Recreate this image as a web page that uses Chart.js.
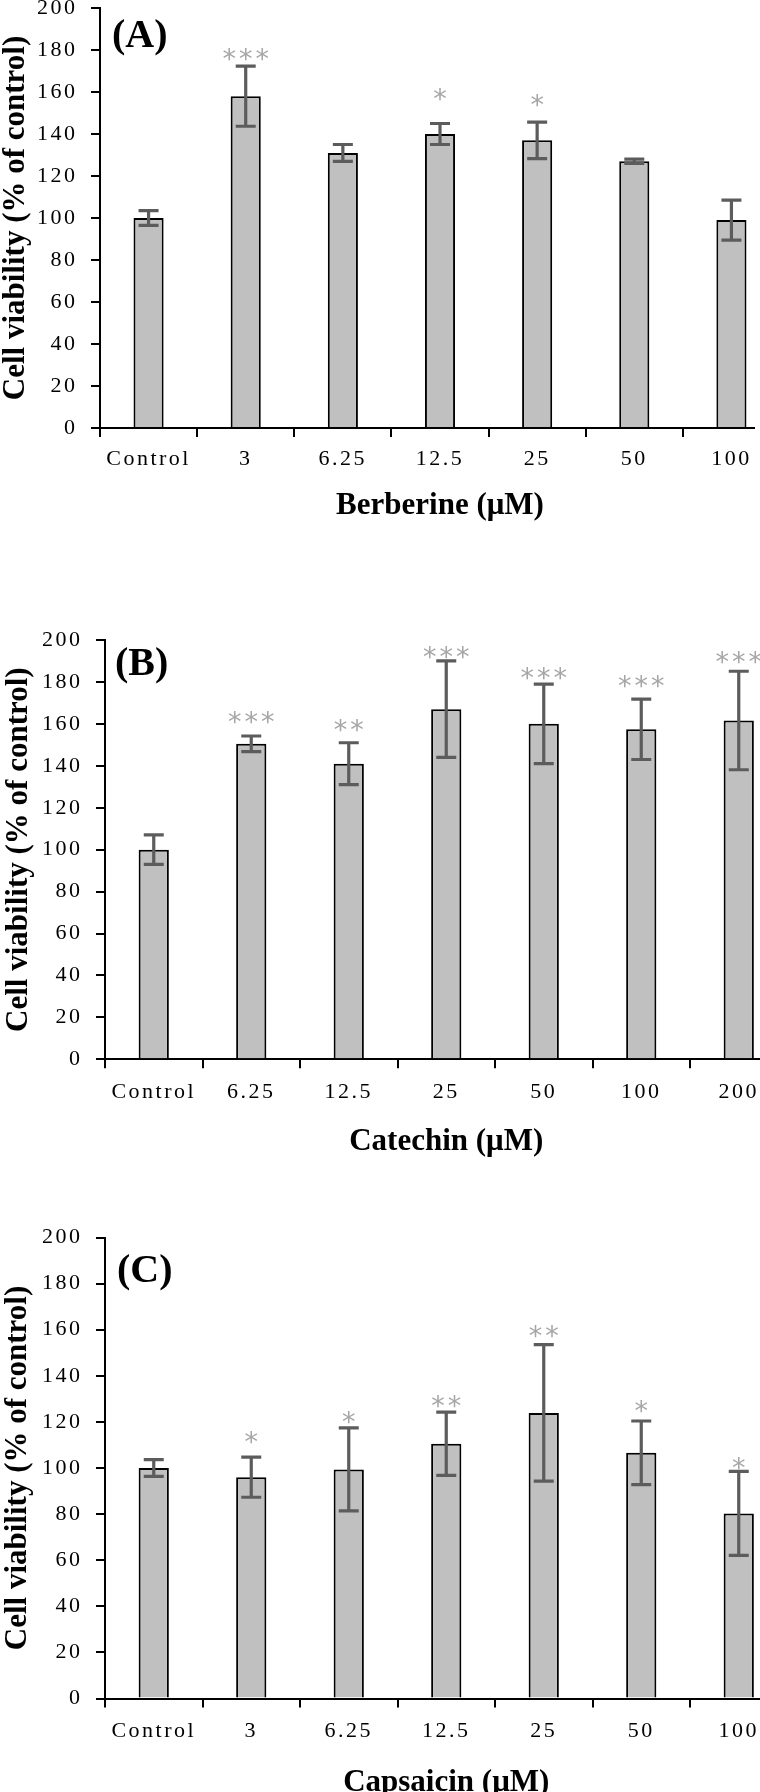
<!DOCTYPE html>
<html><head><meta charset="utf-8">
<script src="https://cdn.jsdelivr.net/npm/chart.js@4.4.1/dist/chart.umd.min.js"></script>
<style>
html,body{margin:0;padding:0;background:#fff;overflow:hidden;width:760px;height:1792px;}
.panel{position:absolute;left:0;overflow:hidden;}
canvas{display:block;}
</style></head><body>
<div class="panel" style="top:0;width:755px;height:525px"><canvas id="cA" width="790" height="525"></canvas></div>
<div class="panel" style="top:600px;width:760px;height:561px"><canvas id="cB" width="798" height="561"></canvas></div>
<div class="panel" style="top:1200px;width:760px;height:592px"><canvas id="cC" width="798" height="602"></canvas></div>
<script>
// ---- Data ----
const yTicksMin = 0, yTicksMax = 200, yTickStep = 20;
const yTitle = 'Cell viability (% of control)';

const aLabels = ['Control','3','6.25','12.5','25','50','100'];
const aValues = [100,158,131,140,137,127,99];
const aErrors = [3.5,14.3,4,5,8.7,1,9.5];
const aSig    = ['','***','','*','*','',''];
const aSigY   = [null,178.6,null,160,156.7,null,null];

const bLabels = ['Control','6.25','12.5','25','50','100','200'];
const bValues = [100,150.5,141,167,160,157.4,161.6];
const bErrors = [7,3.7,10,23,19,14.4,23.5];
const bSig    = ['','***','**','***','***','***','***'];
const bSigY   = [null,164.2,160,194.9,184.9,181.3,192.8];

const cLabels = ['Control','3','6.25','12.5','25','50','100'];
const cValues = [100,96,99.4,110.5,123.9,106.6,80.3];
const cErrors = [3.6,8.7,18,13.7,29.6,13.8,18.2];
const cSig    = ['','*','*','**','**','*','*'];
const cSigY   = [null,113.9,122.7,129.8,159.9,127.5,103];

const SERIF = '"Liberation Serif","Times New Roman",serif';

function makePanel(p){
  const overlay = {
    id:'overlay',
    beforeDraw(chart){
      ['x','y'].forEach(id=>{
        const s = chart.scales[id];
        if(s && !s._lsPatched){
          const orig = s.drawLabels;
          s.drawLabels = function(ca){ const c=this.ctx; c.save(); c.letterSpacing='2.5px'; orig.call(this, ca); c.restore(); };
          s._lsPatched = true;
        }
      });
    },
    afterDatasetsDraw(chart){
      const ctx = chart.ctx, ys = chart.scales.y, meta = chart.getDatasetMeta(0);
      ctx.save();
      ctx.strokeStyle = '#5c5c5c'; ctx.lineWidth = 3.2; ctx.lineCap = 'butt';
      meta.data.forEach((bar,i)=>{
        const x = bar.x;
        const t = ys.getPixelForValue(p.values[i] + p.errors[i]);
        const b = ys.getPixelForValue(p.values[i] - p.errors[i]);
        ctx.beginPath();
        ctx.moveTo(x,t); ctx.lineTo(x,b);
        ctx.moveTo(x-10,t); ctx.lineTo(x+10,t);
        ctx.moveTo(x-10,b); ctx.lineTo(x+10,b);
        ctx.stroke();
      });
      ctx.fillStyle = '#a6a6a6'; ctx.font = '27px "DejaVu Sans"';
      ctx.textAlign = 'center'; ctx.textBaseline = 'alphabetic'; ctx.letterSpacing = '3px';
      meta.data.forEach((bar,i)=>{
        if(p.sig[i]) ctx.fillText(p.sig[i], bar.x + 1.5, ys.getPixelForValue(p.sigY[i]) + 15.5);
      });
      ctx.letterSpacing = '0px';
      ctx.fillStyle = '#000'; ctx.font = 'bold 40px ' + SERIF; ctx.textAlign = 'left';
      ctx.fillText(p.tag, chart.chartArea.left + p.tagDX, chart.chartArea.top + p.tagDY);
      ctx.restore();
    }
  };
  return new Chart(document.getElementById(p.canvas), {
    type:'bar',
    data:{ labels:p.labels, datasets:[{ data:p.values, backgroundColor:'#c0c0c0', borderColor:'#000', borderWidth:2,
      categoryPercentage:1, barPercentage:0.31 }]},
    options:{
      responsive:false, animation:false, devicePixelRatio:1,
      layout:{ padding:{ left:0, top:p.padTop, right:p.padRight, bottom:0 } },
      plugins:{ legend:{display:false}, tooltip:{enabled:false} },
      scales:{
        x:{
          offset:true,
          grid:{ display:true, offset:true, drawOnChartArea:false, drawTicks:true, tickLength:9, color:'#000', lineWidth:2 },
          border:{ display:true, color:'#000', width:2 },
          ticks:{ color:'#000', font:{ family:SERIF, size:22 }, padding:p.xTickPad, autoSkip:false, maxRotation:0 },
          title:{ display:true, text:p.xTitle, color:'#000', font:{ family:SERIF, size:31, weight:'bold', lineHeight:1.2 }, padding:0 },
          afterFit(s){ s.height = p.xHeight; s.paddingLeft = 0; s.paddingRight = 0; }
        },
        y:{
          min:yTicksMin, max:yTicksMax,
          grid:{ display:true, drawOnChartArea:false, drawTicks:true, tickLength:9, color:'#000', lineWidth:2 },
          border:{ display:true, color:'#000', width:2 },
          ticks:{ stepSize:yTickStep, color:'#000', font:{ family:SERIF, size:22 }, padding:13.5 },
          title:{ display:true, text:yTitle, color:'#000', font:{ family:SERIF, size:31, weight:'bold', lineHeight:1 }, padding:{ top:p.yTitlePad, bottom:0 } },
          afterFit(s){ s.width = p.yWidth; s.paddingTop = 0; s.paddingBottom = 0; }
        }
      }
    },
    plugins:[overlay]
  });
}

makePanel({ canvas:'cA', labels:aLabels, values:aValues, errors:aErrors, sig:aSig, sigY:aSigY,
  tag:'(A)', tagDX:12, tagDY:39, xTitle:'Berberine (μM)',
  padTop:8, padRight:10, yWidth:100, xHeight:97, xTickPad:9, yTitlePad:0 });
makePanel({ canvas:'cB', labels:bLabels, values:bValues, errors:bErrors, sig:bSig, sigY:bSigY,
  tag:'(B)', tagDX:10, tagDY:35, xTitle:'Catechin (μM)',
  padTop:40, padRight:10.5, yWidth:105, xHeight:101.7, xTickPad:10.5, yTitlePad:3.5 });
makePanel({ canvas:'cC', labels:cLabels, values:cValues, errors:cErrors, sig:cSig, sigY:cSigY,
  tag:'(C)', tagDX:12, tagDY:44, xTitle:'Capsaicin (μM)',
  padTop:37.5, padRight:10.5, yWidth:105, xHeight:103.5, xTickPad:10.8, yTitlePad:2.5 });
</script>
</body></html>
